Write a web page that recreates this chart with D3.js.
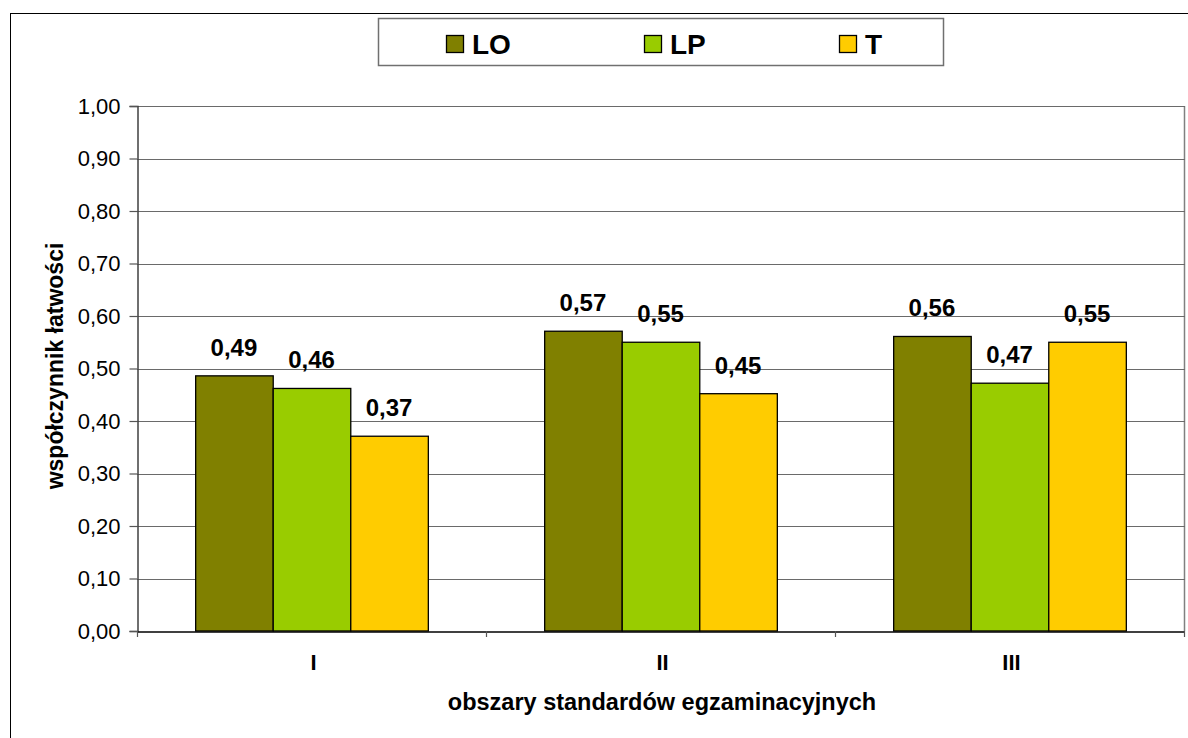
<!DOCTYPE html>
<html>
<head>
<meta charset="utf-8">
<script src="https://cdn.jsdelivr.net/npm/d3@7"></script>
<style>
  html, body { margin: 0; padding: 0; background: #fff; }
  svg { display: block; font-family: Arial, "Liberation Sans", sans-serif; }
</style>
</head>
<body>
<svg id="chart" width="1188" height="738"></svg>
<script>
const categories = ["I", "II", "III"];
const seriesNames = ["LO", "LP", "T"];
const seriesColors = ["#808000", "#99CC00", "#FFCC00"];
const valuesLO = [0.486, 0.571, 0.561];
const valuesLP = [0.462, 0.550, 0.472];
const valuesT  = [0.371, 0.452, 0.550];
const yTicks = [0, 0.1, 0.2, 0.3, 0.4, 0.5, 0.6, 0.7, 0.8, 0.9, 1.0];
const yTitle = "współczynnik łatwości";
const xTitle = "obszary standardów egzaminacyjnych";

(function () {
const seriesValues = [valuesLO, valuesLP, valuesT];
const data = categories.map((c, i) => ({
  cat: c,
  vals: seriesNames.map((s, j) => ({ key: s, value: seriesValues[j][i], color: seriesColors[j] }))
}));

const svg = d3.select("#chart");
const fmt = v => d3.format(".2f")(v).replace(".", ",");

// outer chart border
svg.append("rect").attr("x", 10.5).attr("y", 13.5).attr("width", 1300).attr("height", 800)
  .attr("fill", "#fff").attr("stroke", "#000").attr("stroke-width", 1);

const pLeft = 137, pRight = 1184, pTop = 106, pBottom = 631;
const x0 = d3.scaleBand().domain(categories).range([pLeft, pRight]).padding(0);
const x1 = d3.scaleBand().domain(seriesNames).range([x0.bandwidth() / 6, x0.bandwidth() * 5 / 6]).padding(0);
const y = d3.scaleLinear().domain([0, 1]).range([pBottom, pTop]);

// plot area right border
svg.append("line").attr("x1", pRight + 0.5).attr("x2", pRight + 0.5).attr("y1", pTop).attr("y2", pBottom)
  .attr("stroke", "#808080").attr("stroke-width", 1.5);

// gridlines
svg.append("g").selectAll("line").data(yTicks.filter(t => t > 0)).join("line")
  .attr("x1", pLeft).attr("x2", pRight + 1)
  .attr("y1", d => Math.round(y(d)) + 0.5).attr("y2", d => Math.round(y(d)) + 0.5)
  .attr("stroke", "#6a6a6a").attr("stroke-width", 1.2);

// y axis
const yAxis = d3.axisLeft(y).tickValues(yTicks).tickFormat(fmt).tickSize(8).tickPadding(9);
const gy = svg.append("g").attr("transform", `translate(${pLeft + 0.5},0)`).call(yAxis);
gy.select(".domain").attr("stroke", "#404040").attr("stroke-width", 1.5);
gy.selectAll(".tick line").attr("stroke", "#555").attr("stroke-width", 1.2);
gy.selectAll(".tick text").attr("font-size", "22px").attr("fill", "#000")
  .attr("font-family", "Arial, 'Liberation Sans', sans-serif");

// bars
const groups = svg.append("g").selectAll("g").data(data).join("g")
  .attr("transform", d => `translate(${x0(d.cat)},0)`);
groups.selectAll("rect").data(d => d.vals).join("rect")
  .attr("x", d => x1(d.key) + 0.5)
  .attr("y", d => y(d.value))
  .attr("width", x1.bandwidth())
  .attr("height", d => y(0) - y(d.value))
  .attr("fill", d => d.color)
  .attr("stroke", "#000").attr("stroke-width", 1.3);
groups.selectAll("text").data(d => d.vals).join("text")
  .attr("x", d => x1(d.key) + x1.bandwidth() / 2)
  .attr("y", d => y(d.value) - 20)
  .attr("text-anchor", "middle")
  .attr("font-size", "24px").attr("font-weight", "bold")
  .text(d => fmt(d.value));

// x axis
const xAxis = d3.axisBottom(x0).tickSize(0).tickPadding(0).tickFormat(() => "");
const gx = svg.append("g").attr("transform", `translate(0,${pBottom + 0.5})`).call(xAxis);
gx.select(".domain").attr("stroke", "#000").attr("stroke-width", 1.5);
// separator ticks between categories
const sepTicks = [pLeft].concat(categories.map(c => x0(c) + x0.bandwidth()));
svg.append("g").selectAll("line").data(sepTicks).join("line")
  .attr("x1", d => Math.round(d) + 0.5).attr("x2", d => Math.round(d) + 0.5)
  .attr("y1", pBottom).attr("y2", pBottom + 6)
  .attr("stroke", "#555").attr("stroke-width", 1.2);
svg.append("g").selectAll("text").data(categories).join("text")
  .attr("x", d => x0(d) + x0.bandwidth() / 2 + 2)
  .attr("y", 670)
  .attr("text-anchor", "middle")
  .attr("font-size", "22px").attr("font-weight", "bold")
  .text(d => d);

// axis titles
svg.append("text").attr("x", 662).attr("y", 710).attr("text-anchor", "middle")
  .attr("font-size", "23.5px").attr("font-weight", "bold").text(xTitle);
svg.append("text").attr("transform", "translate(63,366) rotate(-90)").attr("text-anchor", "middle")
  .attr("font-size", "23px").attr("font-weight", "bold").text(yTitle);

// legend
svg.append("rect").attr("x", 378.5).attr("y", 18.5).attr("width", 565).attr("height", 47)
  .attr("fill", "#fff").attr("stroke", "#707070").attr("stroke-width", 1.5);
const legendX = [446, 644, 839];
const lg = svg.append("g").selectAll("g").data(seriesNames).join("g")
  .attr("transform", (d, i) => `translate(${legendX[i]},0)`);
lg.append("rect").attr("x", 0.5).attr("y", 35.5).attr("width", 17).attr("height", 17)
  .attr("fill", (d, i) => seriesColors[i]).attr("stroke", "#000").attr("stroke-width", 1.3);
lg.append("text").attr("x", 26).attr("y", 54)
  .attr("font-size", "28px").attr("font-weight", "bold").text(d => d);
})();
</script>
</body>
</html>
